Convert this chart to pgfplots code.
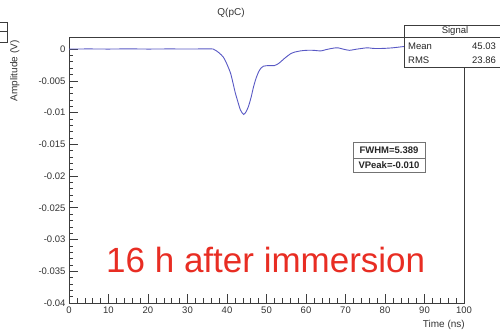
\documentclass[border=0pt]{standalone}
\usepackage{fontspec}
\setmainfont{Liberation Sans}
\usepackage{pgfplots}
\pgfplotsset{compat=1.18}

\definecolor{tracecol}{RGB}{88,88,196}
\definecolor{framecol}{RGB}{60,60,60}
\definecolor{labelred}{RGB}{232,45,35}

\begin{document}
\begin{tikzpicture}
\useasboundingbox (0pt,0pt) rectangle (500pt,332pt);

\begin{axis}[
  at={(69pt,29pt)}, anchor=south west,
  scale only axis, width=395pt, height=266pt,
  xmin=0, xmax=100, ymin=-0.04, ymax=0.0019,
  xtick distance=10, minor x tick num=4,
  ytick distance=0.005, minor y tick num=4,
  tick pos=left, tick align=inside,
  major tick length=9pt, minor tick length=4.5pt,
  scaled y ticks=false,
  yticklabel style={/pgf/number format/fixed, /pgf/number format/precision=3},
  /pgf/number format/assume math mode=true,
  ticklabel style={font=\fontsize{9.5}{11}\selectfont, text=black!80},
  axis line style={framecol, line width=0.8pt},
  every tick/.style={framecol, line width=0.6pt},
]
\addplot[tracecol, line width=0.9pt, smooth, tension=0.4] coordinates {
  (0,0) (5,0.00002) (10,0) (15,0.00003) (20,0) (25,0.00002) (30,0.00001)
  (34,0.00002) (36.5,0) (38,-0.0006) (39.1,-0.0013) (40,-0.0024)
  (40.9,-0.0038) (41.5,-0.0053) (42.1,-0.0069) (42.8,-0.0084)
  (43.4,-0.0096) (44.2,-0.0103) (44.8,-0.0099) (45.4,-0.0091)
  (46.1,-0.0076) (46.7,-0.0060) (47.3,-0.0047) (48.0,-0.0036)
  (48.6,-0.0030) (49.2,-0.0027) (50.5,-0.0026) (52.0,-0.0026)
  (53.0,-0.0023) (53.6,-0.0020) (54.5,-0.0015) (55.3,-0.0011)
  (56.2,-0.0007) (57.0,-0.0005) (58.5,-0.0003) (60,-0.0002)
  (62,-0.0002) (63.7,-0.0003) (65,-0.0001) (66.5,0.0001) (68,0.0002)
  (70,-0.0001) (71,-0.0002) (73,0.0000) (75.5,0.0002) (77,0.0001)
  (79.5,0.0001) (82,0.0002) (84.8,0.0004) (87,0.0005) (90,0.0004)
  (95,0.0005) (100,0.0004)
};
\end{axis}

% title and axis titles
\node[font=\fontsize{10}{12}\selectfont, text=black!80] at (231pt,319.5pt) {Q(pC)};
\node[font=\fontsize{10}{12}\selectfont, text=black!80, rotate=90, anchor=south east]
  at (23pt,295pt) {Amplitude (V)};
\node[font=\fontsize{10}{12}\selectfont, text=black!80, anchor=base east, inner sep=0pt]
  at (465pt,5pt) {Time (ns)};

% statistics box (runs past the right edge)
\fill[white] (404pt,265pt) rectangle (500pt,307pt);
\draw[framecol, line width=0.7pt] (500pt,307pt) -- (404pt,307pt) -- (404pt,265pt) -- (500pt,265pt);
\draw[framecol, line width=0.7pt] (404pt,295pt) -- (500pt,295pt);
\node[font=\fontsize{9.5}{11}\selectfont, text=black!85] at (455pt,301pt) {Signal};
\node[font=\fontsize{9.5}{11}\selectfont, text=black!85, anchor=west, inner sep=0pt] at (408pt,286pt) {Mean};
\node[font=\fontsize{9.5}{11}\selectfont, text=black!85, anchor=west, inner sep=0pt] at (408pt,272pt) {RMS};
\node[font=\fontsize{9.5}{11}\selectfont, text=black!85, anchor=west, inner sep=0pt] at (472pt,286pt) {45.03};
\node[font=\fontsize{9.5}{11}\selectfont, text=black!85, anchor=west, inner sep=0pt] at (472pt,272pt) {23.86};

% fragment of a box at the left edge
\draw[framecol, line width=0.7pt] (0pt,310pt) -- (7pt,310pt) -- (7pt,290pt) -- (0pt,290pt);
\draw[framecol, line width=0.7pt] (0pt,301pt) -- (7pt,301pt);

% fit results box
\fill[white] (353pt,159pt) rectangle (425pt,189pt);
\draw[black!55, line width=1pt] (353pt,159pt) rectangle (425pt,189pt);
\draw[black!55, line width=0.8pt] (353pt,174pt) -- (425pt,174pt);
\node[font=\fontsize{9.5}{11}\selectfont\bfseries, text=black!85] at (389pt,181.5pt) {FWHM=5.389};
\node[font=\fontsize{9.5}{11}\selectfont\bfseries, text=black!85] at (389pt,166.5pt) {VPeak=-0.010};

% annotation
\node[font=\fontsize{35}{40}\selectfont, text=labelred, anchor=base west, inner sep=0pt]
  at (106pt,60pt) {16 h after immersion};
\end{tikzpicture}
\end{document}
